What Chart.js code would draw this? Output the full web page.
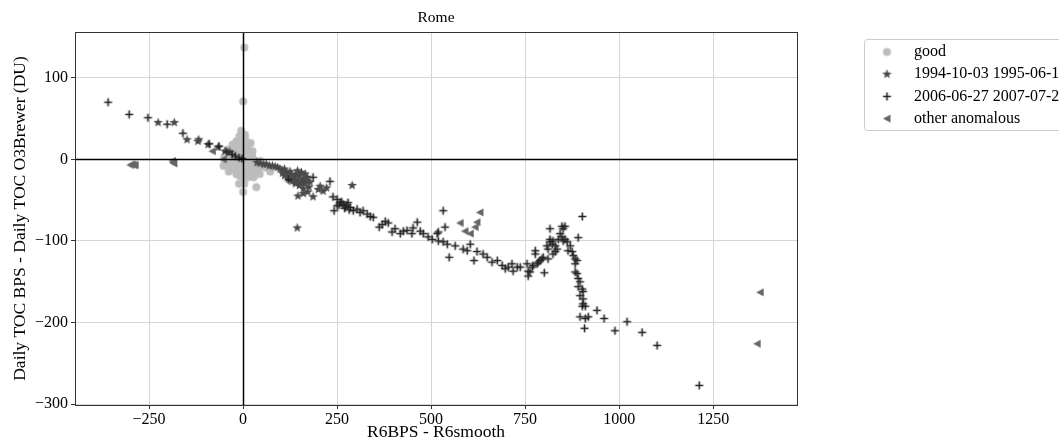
<!DOCTYPE html>
<html>
<head>
<meta charset="utf-8">
<script src="https://cdn.jsdelivr.net/npm/chart.js@4.4.1/dist/chart.umd.min.js"></script>
<style>
  html, body { margin: 0; padding: 0; background: #fff; }
</style>
</head>
<body>
<canvas id="grafico" width="1059" height="445"></canvas>
<script>
// Dados (x = R6BPS - R6smooth, y = diferença de TOC em DU)
const goodX = [3, 0, -5, -10, 5, -2, 8, -15, 12, -20, 0, 18, -25, -8, 6, 25, -30, -12, 10, 30, -35, -5, 15, 40, -20, 0, 22, -45, -15, 8, 35, -3, 15, 0, -30, 50, -50, -40, 20, -18, 3, -11, 0, 35, 72, 28, -10, 45, 60, -6, 14, -28, 4,
  -40, -48, -35, -25, -20, -8, 10, 25, 32, 42, 20, -12, 2, -5, 12, -28, 16, -38, 5, -3, 28, 44, -52, -18];
const goodY = [137, 71, 35, 28, 25, 20, 18, 15, 14, 10, 12, 8, 5, 6, 4, 3, 0, 0, -1, -2, -3, -4, -5, -6, -7, -9, -10, -5, -12, -13, -12, -17, -18, -24, -10, -8, 3, 12, 20, 22, -30, -30, -40, -34, -15, -16, -20, -2, -10, 16, 2, -2, -6,
  -8, -2, 5, -12, 15, 22, 20, 10, -8, -12, -14, 8, 5, -12, -22, 18, 2, -15, 30, -20, -22, -18, -8, -18];

const starX = [-226, -183, -149, -120, -118, -93, -66, -48, -35,
  37, 45, 55, 62, 70, 78, 85, 92, 98, 105, 110, 115, 120, 125, 130, 135, 140, 145, 150, 155,
  160, 165, 170, 175, 160, 150, 140, 130, 120, 110, 105, 145, 155, 165, 178, 172, 146, 160,
  186, 200, 213, 222, 205, 290, 144, 128, 138, 152, 168];
const starY = [45, 45, 24, 22, 24, 18, 15, 10, 9,
  -4, -5, -6, -6, -8, -8, -9, -10, -12, -14, -12, -16, -18, -15, -20, -22, -18, -25, -20, -28,
  -24, -30, -22, -34, -36, -32, -30, -27, -24, -20, -17, -14, -16, -18, -28, -40, -45, -42,
  -46, -37, -39, -35, -33, -32, -84, -24, -28, -30, -26];

const plusX = [-359, -303, -253, -202, -160, -90, -64, -43, -29, -21, -11, -3,
  120, 186, 231, 239, 242, 250, 250, 255, 258, 262, 266, 270, 272, 276, 279, 282, 285, 293, 303, 311,
  319, 330, 338, 346, 362, 370, 378, 386, 396, 404, 418, 426, 436, 449, 452, 463, 471, 479,
  492, 503, 516, 519, 519, 532, 537, 532, 543, 548, 564, 585, 596, 604, 614, 622, 638, 649,
  662, 676, 689, 697, 705, 715, 718, 729, 737, 755, 758, 758, 763, 769, 771, 782, 785, 790,
  795, 798, 777, 777, 801, 808, 811, 816, 816, 822, 824, 830, 830, 816, 848, 856, 851, 843,
  848, 856, 862, 851, 838, 835, 824, 811, 870, 864, 875, 891, 902, 878, 883, 888, 883, 883,
  888, 891, 896, 891, 902, 904, 896, 904, 904, 902, 910, 896, 910, 918, 908, 941, 960, 989,
  1021, 1061, 1101, 1213];
const plusY = [70, 55, 51, 43, 32, 19, 16, 9, 6, 4, 2, 1,
  -25, -22, -27, -46, -63, -49, -57, -56, -53, -52, -55, -60, -58, -56, -53, -62, -59, -63, -61, -65,
  -63, -67, -70, -71, -83, -80, -76, -78, -89, -85, -91, -88, -87, -91, -84, -77, -88, -91,
  -95, -98, -91, -100, -89, -63, -83, -101, -104, -120, -106, -110, -112, -104, -124, -113, -116, -120,
  -126, -124, -130, -134, -132, -128, -137, -132, -132, -128, -137, -143, -138, -132, -130, -128, -126, -124,
  -122, -120, -112, -116, -139, -106, -110, -101, -98, -104, -100, -106, -113, -85, -82, -82, -85, -91,
  -95, -98, -101, -100, -98, -110, -116, -122, -106, -112, -113, -96, -70, -118, -122, -124, -128, -138,
  -140, -146, -150, -156, -159, -162, -167, -171, -177, -180, -180, -193, -195, -193, -207, -185, -195, -210,
  -199, -212, -228, -277];

const triX = [-300, -295, -290, -287, -186, -188, -184, -53, -82, 577, 590, 604, 617, 622, 630, 1375, 1367];
const triY = [-7, -6, -7, -7, -4, -2, -5, 0, 10, -78, -88, -91, -83, -77, -65, -163, -226];

const xTicks = [-250, 0, 250, 500, 750, 1000, 1250];
const yTicks = [-300, -200, -100, 0, 100];

const seriesLabels = ['good', '1994-10-03 1995-06-10', '2006-06-27 2007-07-24', 'other anomalous'];

function pares(xs, ys) {
  return xs.map((x, i) => ({ x: x, y: ys[i] }));
}

// Marcadores desenhados em pequenos canvas
function marcador(tipo, cor) {
  const c = document.createElement('canvas');
  c.width = 11; c.height = 11;
  const g = c.getContext('2d');
  g.fillStyle = cor; g.strokeStyle = cor;
  if (tipo === 'star') {
    g.beginPath();
    for (let k = 0; k < 10; k++) {
      const r = k % 2 === 0 ? 5 : 2.1;
      const a = -Math.PI / 2 + k * Math.PI / 5;
      g.lineTo(5.5 + r * Math.cos(a), 5.5 + r * Math.sin(a));
    }
    g.closePath(); g.fill();
  } else if (tipo === 'plus') {
    g.lineWidth = 1.6;
    g.beginPath();
    g.moveTo(5.5, 1.5); g.lineTo(5.5, 9.5);
    g.moveTo(1.5, 5.5); g.lineTo(9.5, 5.5);
    g.stroke();
  } else if (tipo === 'tri') {
    g.beginPath();
    g.moveTo(1.5, 5.5); g.lineTo(9, 1.5); g.lineTo(9, 9.5);
    g.closePath(); g.fill();
  } else {
    g.beginPath(); g.arc(5.5, 5.5, 4, 0, Math.PI * 2); g.fill();
  }
  return c;
}

const mGood = marcador('circle', '#bdbdbd');
const mStar = marcador('star', '#4a4a4a');
const mPlus = marcador('plus', '#222222');
const mTri = marcador('tri', '#666666');
const marcadores = [mGood, mStar, mPlus, mTri];

const SERIF = '"Liberation Serif", "DejaVu Serif", serif';

// Título, moldura, linhas do zero e legenda
const extras = {
  id: 'extras',
  afterDatasetsDraw(chart) {
    const ctx = chart.ctx;
    const a = chart.chartArea;
    const sx = chart.scales.x, sy = chart.scales.y;
    ctx.save();
    // linhas do zero
    ctx.strokeStyle = '#000'; ctx.lineWidth = 1.5;
    const x0 = Math.round(sx.getPixelForValue(0)) + 0.5;
    const y0 = Math.round(sy.getPixelForValue(0)) + 0.5;
    ctx.beginPath();
    ctx.moveTo(x0, a.top); ctx.lineTo(x0, a.bottom);
    ctx.moveTo(a.left, y0); ctx.lineTo(a.right, y0);
    ctx.stroke();
    // moldura
    ctx.strokeStyle = '#333'; ctx.lineWidth = 1;
    ctx.strokeRect(a.left + 0.5, a.top + 0.5, a.right - a.left, a.bottom - a.top);
    // textos
    ctx.fillStyle = '#000';
    ctx.textAlign = 'center'; ctx.textBaseline = 'middle';
    ctx.font = '15.5px ' + SERIF;
    ctx.fillText('Rome', (a.left + a.right) / 2, 18);
    ctx.font = '17.5px ' + SERIF;
    ctx.fillText('R6BPS - R6smooth', (a.left + a.right) / 2, 432);
    ctx.save();
    ctx.translate(20, (a.top + a.bottom) / 2);
    ctx.rotate(-Math.PI / 2);
    ctx.fillText('Daily TOC BPS - Daily TOC O3Brewer (DU)', 0, 0);
    ctx.restore();
    // legenda
    ctx.fillStyle = 'rgba(255,255,255,0.85)';
    ctx.strokeStyle = '#cccccc';
    ctx.beginPath();
    ctx.roundRect(864.5, 39.5, 230, 91, 3);
    ctx.fill(); ctx.stroke();
    ctx.font = '16px ' + SERIF;
    ctx.textAlign = 'left';
    ctx.fillStyle = '#000';
    seriesLabels.forEach((txt, i) => {
      const yy = 52 + i * 22.2;
      ctx.drawImage(marcadores[i], 887 - 5.5, yy - 5.5);
      ctx.fillText(txt, 914, yy);
    });
    ctx.restore();
  }
};

function fmt(v) {
  return v < 0 ? '\u2212' + Math.abs(v) : String(v);
}

new Chart(document.getElementById('grafico'), {
  type: 'scatter',
  data: {
    datasets: [
      { label: seriesLabels[0], data: pares(goodX, goodY), pointStyle: mGood, order: 4 },
      { label: seriesLabels[1], data: pares(starX, starY), pointStyle: mStar, order: 3 },
      { label: seriesLabels[2], data: pares(plusX, plusY), pointStyle: mPlus, order: 2 },
      { label: seriesLabels[3], data: pares(triX, triY), pointStyle: mTri, order: 1 }
    ]
  },
  options: {
    responsive: false,
    animation: false,
    layout: { padding: { left: 0, right: 262, top: 32, bottom: 0 } },
    plugins: {
      legend: { display: false },
      tooltip: { enabled: false }
    },
    scales: {
      x: {
        type: 'linear',
        min: -447, max: 1473,
        afterBuildTicks: s => { s.ticks = xTicks.map(v => ({ value: v })); },
        afterFit: s => { s.height = 40; },
        grid: { color: '#d6d6d6', lineWidth: 1, tickLength: 4, tickColor: '#333' },
        border: { color: '#333', width: 1 },
        ticks: { callback: v => fmt(v), color: '#000', font: { family: SERIF, size: 16 }, padding: 1, maxRotation: 0 }
      },
      y: {
        type: 'linear',
        min: -301, max: 156,
        afterBuildTicks: s => { s.ticks = yTicks.map(v => ({ value: v })); },
        afterFit: s => { s.width = 75; },
        grid: { color: '#d6d6d6', lineWidth: 1, tickLength: 4, tickColor: '#333' },
        border: { color: '#333', width: 1 },
        ticks: { callback: v => fmt(v), color: '#000', font: { family: SERIF, size: 16 }, padding: 3 }
      }
    }
  },
  plugins: [extras]
});
</script>
</body>
</html>
